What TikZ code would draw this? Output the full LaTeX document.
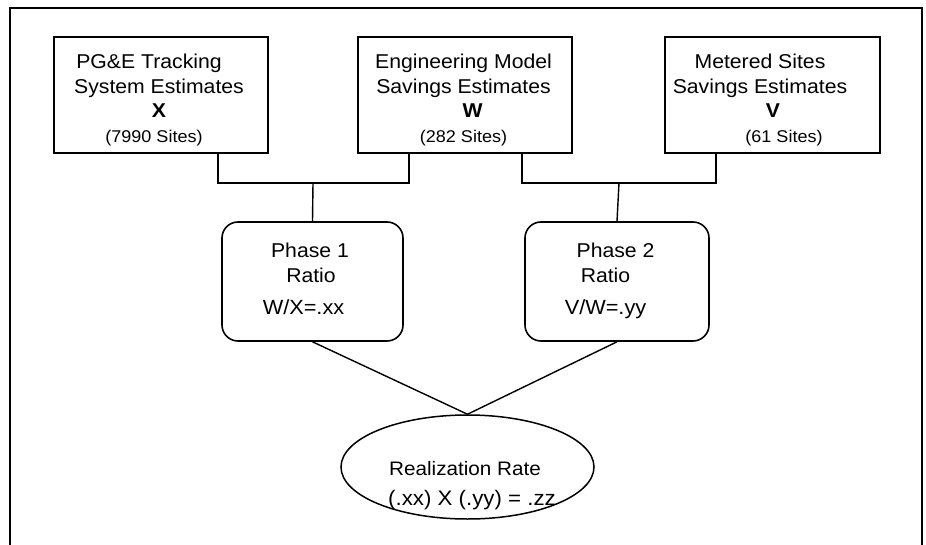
\documentclass[tikz,border=0pt]{standalone}
\usepackage{fontspec}
\setmainfont{Liberation Sans}[FakeStretch=1.06]
\usetikzlibrary{shapes.geometric}
\begin{document}
\begin{tikzpicture}[x=1pt,y=-1pt,
  frameline/.style={line width=1.3pt},
  estbox/.style={draw, line width=1.8pt, minimum width=214pt, minimum height=116pt, inner sep=0pt},
  ratiobox/.style={draw, line width=1.6pt, rounded corners=16pt, minimum height=119pt, inner sep=0pt},
  ratebox/.style={draw, ellipse, line width=1.5pt, minimum width=253pt, minimum height=104pt, inner sep=0pt},
  wire/.style={line width=1.4pt},
  body/.style={align=center, anchor=north, inner sep=0pt, font=\fontsize{20}{24.6}\selectfont},
  small/.style={font=\fontsize{17}{24.6}\selectfont},
]
\useasboundingbox (0,0) rectangle (926,545);

% outer frame (open at the bottom)
\draw[frameline] (10,545) -- (10,8) -- (922,8) -- (922,545);

% source estimate boxes
\node[estbox] (pge) at (161,95) {};
\node[estbox] (eng) at (465,95) {};
\node[estbox, minimum width=215pt] (met) at (772.5,95) {};

\node[body] (pgeText) at (159,54) {PG\&E Tracking\hspace*{20pt}\\System Estimates\\{\bfseries X}\\{\fontsize{17}{24.6}\selectfont (7990 Sites)}\hspace*{10pt}};
\node[body] (engText) at (463.5,54) {Engineering Model\\Savings Estimates\\\hspace*{18pt}{\bfseries W}\\{\fontsize{17}{24.6}\selectfont (282 Sites)}};
\node[body] (metText) at (760,54) {Metered Sites\\Savings Estimates\\\hspace*{26pt}{\bfseries V}\\\hspace*{48pt}{\fontsize{17}{24.6}\selectfont (61 Sites)}};

% ratio boxes
\node[ratiobox, minimum width=181pt] (ph1) at (312.5,281.5) {};
\node[ratiobox, minimum width=184pt] (ph2) at (617,281.5) {};

\node[body] (ph1Text) at (303.5,243) {\hspace*{13pt}Phase 1\\\hspace*{15pt}Ratio\\[8pt]{\fontsize{20.5}{24.6}\selectfont W/X=.xx}};
\node[body] (ph2Text) at (605.5,243) {\hspace*{20pt}Phase 2\\Ratio\hspace*{4pt}\\[8pt]{\fontsize{20.5}{24.6}\selectfont V/W=.yy}};

% realization rate
\node[ratebox] (rate) at (467.5,467) {};
\node[body, font=\fontsize{19.5}{24.6}\selectfont] (rateText) at (472,461) {Realization Rate\hspace*{14pt}\\[5.4pt]{\fontsize{21}{24.6}\selectfont (.xx) X (.yy) = .zz}};

% connectors
\coordinate (busA) at (313,183);
\coordinate (busB) at (619,183);
\draw[wire] ([xshift=57pt]pge.south) |- (busA) -| ([xshift=-56pt]eng.south);
\draw[wire] (busA) -- (ph1.north);
\draw[wire] ([xshift=57pt]eng.south) |- (busB) -| ([xshift=-56.5pt]met.south);
\draw[wire] (busB) -- (ph2.north);
\draw[wire] (ph1.south) -- (rate.north);
\draw[wire] (ph2.south) -- (rate.north);
\end{tikzpicture}
\end{document}
